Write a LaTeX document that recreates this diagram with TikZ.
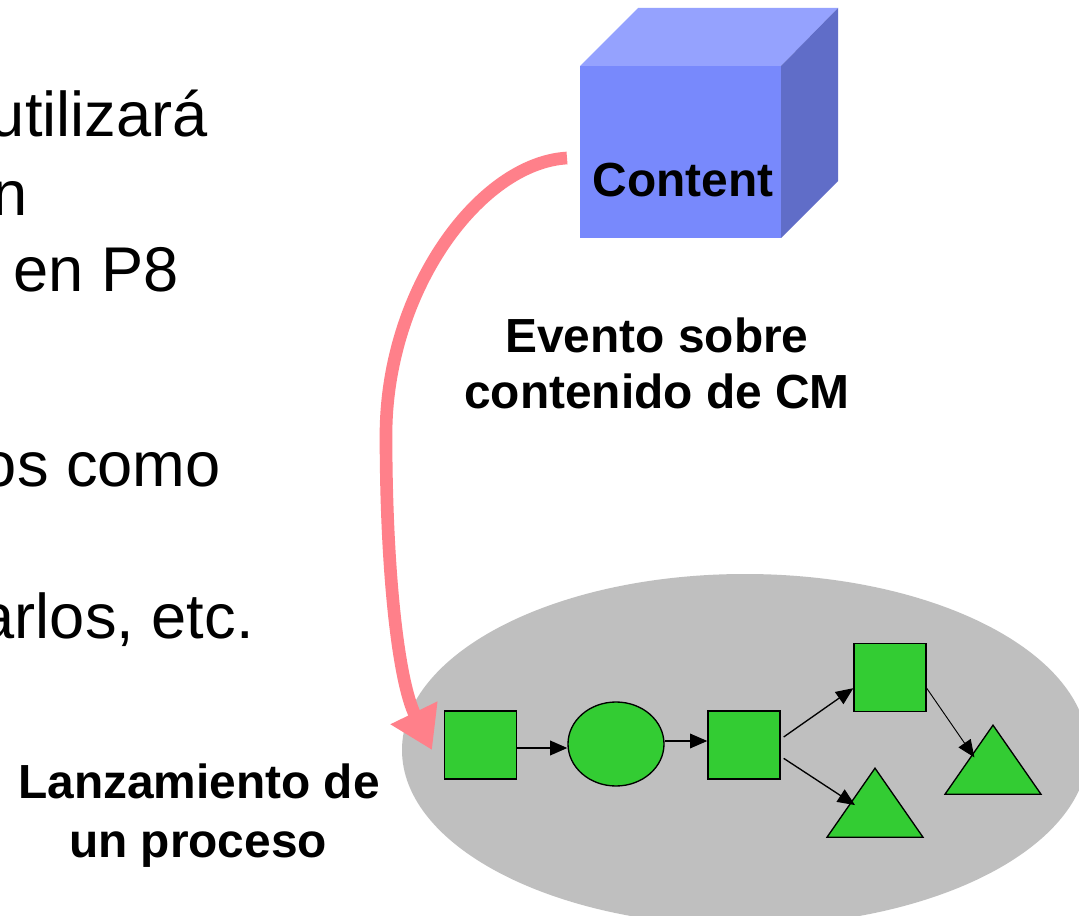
\documentclass[tikz,border=0pt]{standalone}
\usepackage{fontspec}
\setmainfont{Liberation Sans}
\usetikzlibrary{arrows.meta,shapes.geometric}
\definecolor{front}{HTML}{7889FC}
\definecolor{topf}{HTML}{95A2FE}
\definecolor{sidef}{HTML}{606DC8}
\definecolor{pinkc}{HTML}{FF808A}
\definecolor{greyc}{HTML}{BFBFBF}
\definecolor{greenc}{HTML}{33CC33}
\tikzset{
  x=0.75pt,y=-0.75pt,
  body/.style={anchor=base east,inner sep=0pt,font=\fontsize{47.4pt}{47.4pt}\selectfont},
  lab/.style={anchor=base,inner sep=0pt,font=\fontsize{35.9pt}{35.9pt}\selectfont\bfseries},
  sq/.style={draw=black,line width=1pt,fill=greenc,rectangle,inner sep=0pt,minimum width=54pt,minimum height=51pt},
  circ/.style={draw=black,line width=1pt,fill=greenc,ellipse,inner sep=0pt,minimum width=72pt,minimum height=63pt},
  tri/.style={draw=black,line width=1pt,fill=greenc,isosceles triangle,isosceles triangle apex angle=69.6,shape border rotate=90,inner sep=0pt,minimum height=51.75pt,anchor=apex},
  flow/.style={draw=black,line width=1pt,-{Triangle[length=13pt,width=11pt]}},
}
\begin{document}
\begin{tikzpicture}
\useasboundingbox (0,0) rectangle (1079,916);
\fill[white] (0,0) rectangle (1079,916);
% left text
\node[body] (t1) at (208,137) {utilizará};
\node[body] (t2) at (28,216) {n};
\node[body] (t3) at (179,292) {en P8};
\node[body] (t4) at (221,486) {os como};
\node[body] (t5) at (254,638) {arlos, etc.};
% cube
\fill[topf] (580,66) -- (638,8) -- (838,8) -- (781,66) -- cycle;
\fill[sidef] (781,66) -- (838,8) -- (838,181) -- (781,238) -- cycle;
\node[rectangle,fill=front,inner sep=0pt,minimum width=150.75pt,minimum height=129pt,anchor=north west] (cube) at (580,66) {};
\node[lab] (content) at (683,197) {Content};
\coordinate (src) at (567,158);
% labels
\node[lab] (ev1) at (657,353) {Evento sobre};
\node[lab] (ev2) at (657,409) {contenido de CM};
\node[lab] (la1) at (199,798) {Lanzamiento de};
\node[lab] (la2) at (198,857) {un proceso};
% process ellipse
\node[ellipse,fill=greyc,inner sep=0pt,minimum width=514.5pt,minimum height=264pt] (pool) at (745,750) {};
% shapes
\node[sq] (s1) at (480.5,745) {};
\node[circ] (c1) at (616,744) {};
\node[sq] (s2) at (744,745) {};
\node[sq] (s3) at (890,677.5) {};
\node[tri] (tA) at (875,767) {};
\node[tri] (tB) at (993,724) {};
\coordinate (tip) at (432,750);
% connectors
\draw[line width=9.5pt,draw=pinkc,-{Triangle[length=31pt,width=37pt]}]
  (src) .. controls (480,163) and (386,290) .. (386,435)
  .. controls (386,570) and (398,680) .. (tip);
\draw[flow,line width=1.4pt] ([yshift=-2.25pt]s1.east) -- ([yshift=-3pt]c1.west);
\draw[flow] ([yshift=2.25pt]c1.east) -- ([yshift=3pt]s2.west);
\draw[flow] ([xshift=2.25pt,yshift=6pt]s2.east) -- ([yshift=-8pt]s3.west);
\draw[flow] ([xshift=2.25pt,yshift=-10pt]s2.east) -- ([xshift=3.5pt,yshift=-2pt]tA.left side);
\draw[flow,line width=0.7pt] ([yshift=-8pt]s3.east) -- ([xshift=4.5pt,yshift=1.5pt]tB.left side);
\end{tikzpicture}
\end{document}
